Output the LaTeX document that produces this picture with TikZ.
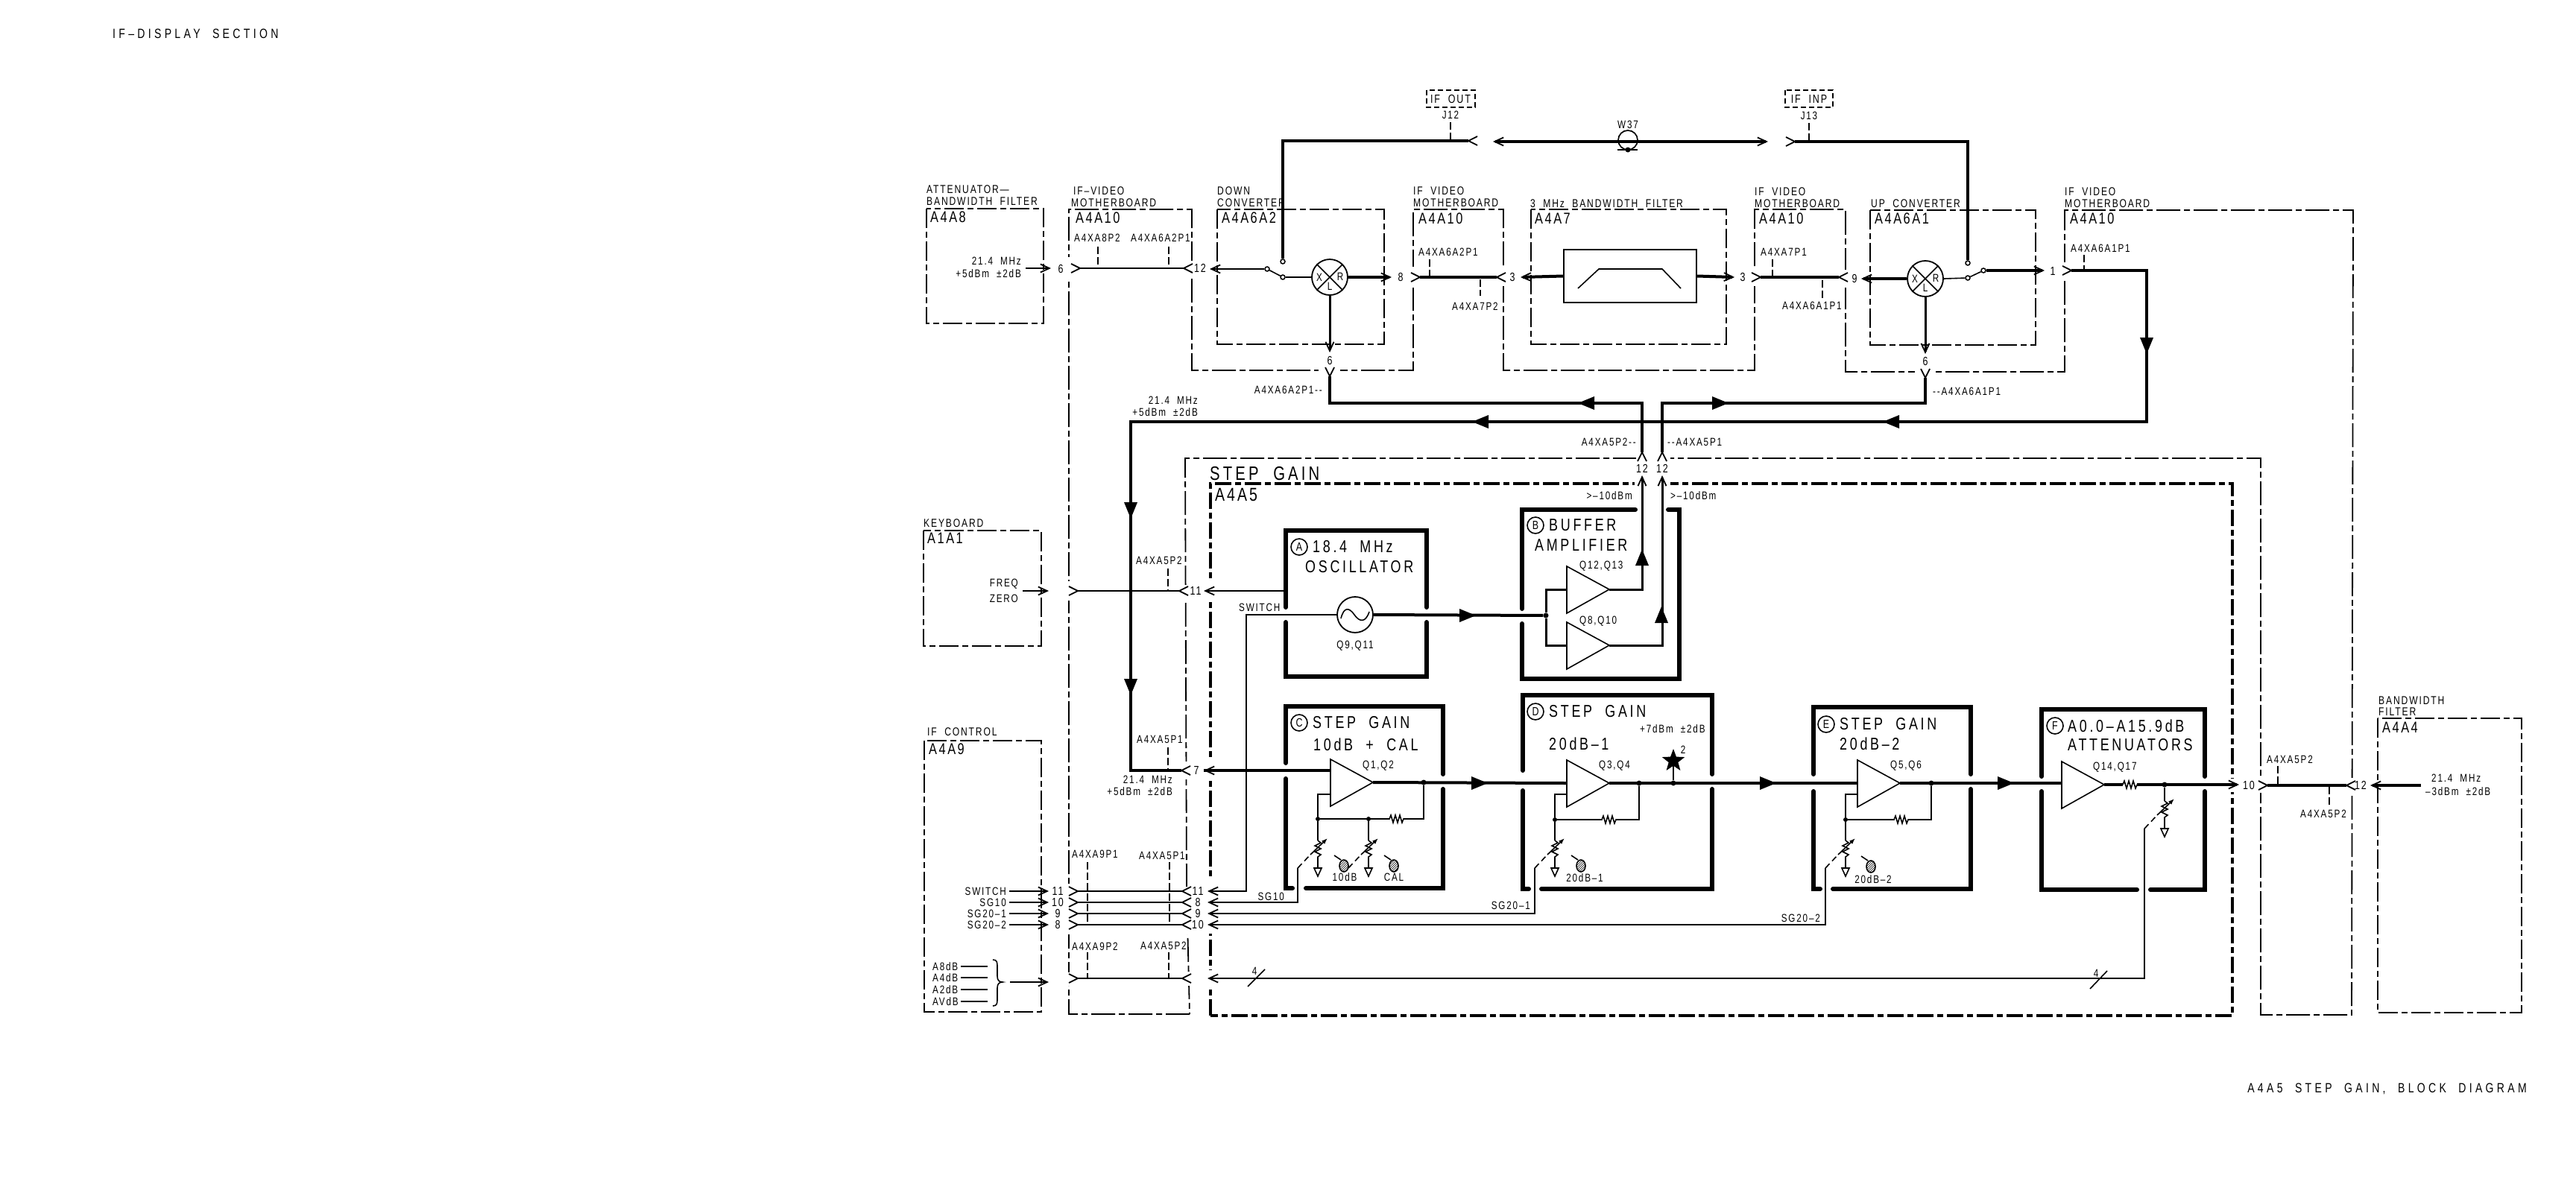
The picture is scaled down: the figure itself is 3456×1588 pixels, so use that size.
\documentclass[tikz,border=0pt]{standalone}
\usepackage{fontspec}
\usetikzlibrary{arrows.meta,shapes.geometric,patterns}
\setmainfont{Liberation Sans}
\newfontfamily\cad[FakeStretch=.78,LetterSpace=12,WordSpace=2]{Liberation Sans}
\newfontfamily\cadw[FakeStretch=.78,LetterSpace=16,WordSpace=2]{Liberation Sans}
\newfontfamily\cadx[FakeStretch=.78,LetterSpace=24,WordSpace=2]{Liberation Sans}
\newcommand\triL[2]{\fill (#1,#2) -- ++(22,-9) -- ++(0,18) -- cycle;}
\newcommand\triR[2]{\fill (#1,#2) -- ++(-22,-9) -- ++(0,18) -- cycle;}
\newcommand\triD[2]{\fill (#1,#2) -- ++(-9,-22) -- ++(18,0) -- cycle;}
\newcommand\triU[2]{\fill (#1,#2) -- ++(-9,22) -- ++(18,0) -- cycle;}
\newcommand\gapV[4][4]{\fill[white] (#2-#1,#3) rectangle (#2+#1,#4);}
\newcommand\gapH[4][4]{\fill[white] (#3,#2-#1) rectangle (#4,#2+#1);}
\newcommand\zz{-- ++(2,-5) -- ++(3,10) -- ++(3,-10) -- ++(3,10) -- ++(3,-10) -- ++(3,10) -- ++(2,-5)}
\newcommand\stub[3]{\draw[stubline] (#1,#2) -- (#1,#3);}
% amplifier: name, left x, tip y
\newcommand\Amp[3]{\coordinate (#1-o) at (#2+57,#3);
  \draw[thinw,line join=miter] (#2,#3-31) -- (#2,#3+32) -- (#1-o) -- cycle;}
% variable attenuator: name, x, top of zigzag
\newcommand\Var[3]{\coordinate (#1-t) at (#2,#3); \coordinate (#1-d) at (#2-27,#3+37);
  \draw[thinw] (#1-t) -- ++(4,3) -- ++(-8,4) -- ++(8,4) -- ++(-8,4) -- ++(8,4) -- ++(-4,3) -- (#2,#3+37) -- ++(-5,0) -- ++(5,11) -- ++(5,-11) -- (#2,#3+37);
  \draw[thinw,-{Latex[length=8pt,width=6pt]}] (#2-10,#3+19) -- (#2+13,#3-3);
  \draw[thinw,dash pattern=on 8pt off 5pt] (#1-d) -- (#2-10,#3+19);}
% screwdriver adjustment
\newcommand\Screw[2]{\draw[thinw,fill=white,pattern=north east lines] (#1,#2) ellipse (6 and 8);
  \draw[line width=1.6pt] (#1-13,#2-14) -- (#1-4,#2-8);}
\tikzset{
 thinw/.style={line width=1.6pt},
 medw/.style={line width=3pt},
 thickw/.style={line width=4pt},
 opn/.style={-{Straight Barb[length=12pt,width=11pt,line width=1.8pt]}},
 modbox/.style={line width=2pt,dash pattern=on 26pt off 5pt on 8pt off 5pt},
 mbline/.style={line width=1.8pt,dash pattern=on 32pt off 5pt on 8pt off 5pt},
 stepline/.style={line width=4.5pt,dash pattern=on 22pt off 5pt on 8pt off 5pt},
 blockline/.style={line width=6pt,line cap=round,line join=miter},
 stubline/.style={line width=1.4pt,dash pattern=on 10pt off 4pt},
 fs/.style={font=\cad\fontsize{15}{16}\selectfont,inner sep=0pt},
 fn/.style={font=\cad\fontsize{16}{17}\selectfont,inner sep=0pt},
 fh/.style={font=\cad\fontsize{15.5}{17}\selectfont,inner sep=0pt},
 fm/.style={font=\cad\fontsize{21}{23}\selectfont,inner sep=0pt},
 fa/.style={font=\cad\fontsize{25}{27}\selectfont,inner sep=0pt},
 fb/.style={font=\cadw\fontsize{23}{24}\selectfont,inner sep=0pt},
 fl/.style={font=\cadw\fontsize{26}{28}\selectfont,inner sep=0pt},
 fx/.style={font=\cadx\fontsize{18}{20}\selectfont,inner sep=0pt},
 lft/.style={anchor=west},
 rgt/.style={anchor=east},
 circ/.style={draw,circle,line width=1.6pt,minimum size=22pt,inner sep=0pt,font=\cad\fontsize{16}{17}\selectfont},
 dot/.style={circle,fill=black,minimum size=7pt,inner sep=0pt},
 swc/.style={circle,draw,fill=white,line width=1.5pt,minimum size=6pt,inner sep=0pt},
 mix/.style={circle,draw,line width=1.8pt,minimum size=48pt,inner sep=0pt},
 chevr/.pic={\draw[line width=1.8pt] (-12,-6) -- (0,0) -- (-12,6);},
 chevl/.pic={\draw[line width=1.8pt] (12,-6) -- (0,0) -- (12,6);},
 chevd/.pic={\draw[line width=1.8pt] (-6,-12) -- (0,0) -- (6,-12);},
 chevu/.pic={\draw[line width=1.8pt] (-6,12) -- (0,0) -- (6,12);},
}
\begin{document}
\begin{tikzpicture}[x=1pt,y=-1pt]
\useasboundingbox (0,0) rectangle (3456,1588);
% ---------- module outlines
\draw[modbox] (1243,280) rectangle (1400,434);
\draw[modbox] (1633,281) rectangle (1857,462);
\draw[modbox] (2054,281) rectangle (2316,462);
\draw[modbox] (2509,282) rectangle (2731,463);
\draw[modbox] (1239,712) rectangle (1397,867);
\draw[modbox] (1240,994) rectangle (1397,1358);
\draw[modbox] (3190,964) rectangle (3383,1359);
\draw[mbline] (1596,1361) -- (1434,1361) -- (1434,281) -- (1599,281) -- (1599,497) -- (1896,497) -- (1896,281) -- (2017,281) -- (2017,497) -- (2354,497) -- (2354,281) -- (2476,281) -- (2476,499) -- (2770,499) -- (2770,282) -- (3157,282) -- (3155,1362) -- (3033,1362) -- (3033,615) -- (1590,615) -- (1592,1195) -- (1596,1361);
\draw[stepline] (1624,1363) -- (1624,649) -- (2995,649) -- (2995,1363) -- cycle;
\draw[thinw,dash pattern=on 7pt off 4pt] (1914,121) rectangle (1979,144);
\draw[thinw,dash pattern=on 7pt off 4pt] (2395,121) rectangle (2459,144);
% gaps
\gapV{1434}{345}{378}\gapV{1434}{780}{806}\gapV{1434}{1190}{1254}\gapV{1434}{1305}{1323}
\gapV{1599}{350}{372}\gapV{1896}{358}{386}\gapV{2017}{360}{384}\gapV{2354}{360}{384}\gapV{2476}{362}{386}\gapV{2770}{352}{375}
\gapV{1592}{785}{806}\gapV{1592}{1022}{1046}\gapV{1592}{1190}{1254}\gapV{1594}{1305}{1323}
\gapV[5]{1624}{780}{806}\gapV[5]{1624}{1020}{1046}\gapV[5]{1624}{1178}{1253}\gapV[5]{1624}{1302}{1325}
\gapV{3033}{1044}{1064}\gapV{3156}{1044}{1064}\gapV[5]{2995}{1045}{1063}
\gapH{497}{1769}{1798}\gapH{499}{2569}{2597}\gapH{615}{2195}{2241}\gapH[5]{649}{2193}{2241}
% ---------- stage blocks
\draw[blockline] (1725,815) -- (1725,712) -- (1914,712) -- (1914,815) (1725,835) -- (1725,908) -- (1914,908) -- (1914,835);
\draw[blockline] (2042,817) -- (2042,684) -- (2194,684) (2238,684) -- (2253,684) -- (2253,911) -- (2042,911) -- (2042,837);
\draw[blockline] (1725,1024) -- (1725,948) -- (1936,948) -- (1936,1039) (1936,1059) -- (1936,1192) -- (1752,1192) (1734,1192) -- (1725,1192) -- (1725,1045);
\draw[blockline] (2043,1034) -- (2043,933) -- (2297,933) -- (2297,1039) (2297,1059) -- (2297,1193) -- (2068,1193) (2051,1193) -- (2043,1193) -- (2043,1061);
\draw[blockline] (2433,1039) -- (2433,949) -- (2644,949) -- (2644,1039) (2644,1059) -- (2644,1193) -- (2459,1193) (2442,1193) -- (2433,1193) -- (2433,1062);
\draw[blockline] (2739,1042) -- (2739,952) -- (2958,952) -- (2958,1042) (2958,1062) -- (2958,1194) -- (2885,1194) (2867,1194) -- (2739,1194) -- (2739,1062);
% ---------- top path components
\node[mix] (mx1) at (1784,372) {};
\draw[line width=1.6pt] (mx1.45) -- (mx1.225) (mx1.135) -- (mx1.315);
\node[mix] (mx2) at (2583,374) {};
\draw[line width=1.6pt] (mx2.45) -- (mx2.225) (mx2.135) -- (mx2.315);
\node[fs] (mx1x) at (1770,372) {X}; \node[fs] (mx1r) at (1798,371) {R}; \node[fs] (mx1l) at (1784,384) {L};
\node[fs] (mx2x) at (2569,374) {X}; \node[fs] (mx2r) at (2597,373) {R}; \node[fs] (mx2l) at (2583,386) {L};
\node[swc] (sw1a) at (1700,361) {}; \node[swc] (sw1b) at (1721,372) {}; \node[swc] (sw1c) at (1721,351) {};
\node[swc] (sw2a) at (2661,363) {}; \node[swc] (sw2b) at (2640,373) {}; \node[swc] (sw2c) at (2640,353) {};
\draw[thinw] (sw1a) -- (sw1b); \draw[thinw] (sw2a) -- (sw2b);
\draw[thinw] (sw1b) -- (mx1.west); \draw[thinw] (mx2.east) -- (sw2b);
\node[draw,line width=1.8pt,minimum width=178pt,minimum height=71pt,inner sep=0pt] (filt) at (2187,370.5) {};
\draw[thinw] (2117,387) -- (2145,361) -- (2230,361) -- (2255,387);
% coordinates of connector terminals
\coordinate (a6s) at (1376,360); \coordinate (a6e) at (1410,360);
\coordinate (m1a) at (1449,360); \coordinate (m1b) at (1588,360);
\coordinate (sw1o) at (1623,361);
\coordinate (mx1o) at (1867,372); \coordinate (m2a) at (1905,372); \coordinate (m2b) at (2008,372);
\coordinate (fli) at (2040,372); \coordinate (flo) at (2327,372);
\coordinate (m3a) at (2362,372); \coordinate (m3b) at (2467,372);
\coordinate (mx2i) at (2497,374); \coordinate (sw2o) at (2743,363); \coordinate (m4a) at (2779,363);
\coordinate (c1) at (2880,363); \coordinate (c2) at (2880,566); \coordinate (c3) at (1517,566); \coordinate (c4) at (1517,1034);
\coordinate (in7) at (1585,1034); \coordinate (tip7) at (1615,1034);
\coordinate (ifo) at (1970,189); \coordinate (ifo1) at (1721,189);
\coordinate (w37a) at (2003,190); \coordinate (w37b) at (2372,190);
\coordinate (ifi) at (2408,190); \coordinate (ifi1) at (2640,190);
\coordinate (mx1d) at (1784,473); \coordinate (y1) at (1784,505); \coordinate (y1a) at (1784,541); \coordinate (y1b) at (2203,541);
\coordinate (mx2d) at (2583,475); \coordinate (y2) at (2583,507); \coordinate (y2a) at (2583,541); \coordinate (y2b) at (2230,541);
\coordinate (u1) at (2203,607); \coordinate (u2) at (2230,607); \coordinate (u1b) at (2203,638); \coordinate (u2b) at (2230,638);
% ---------- chevrons
\pic at (m1a) {chevr}; \pic at (m1b) {chevl}; \pic at (m2a) {chevr}; \pic at (m2b) {chevl};
\pic at (m3a) {chevr}; \pic at (m3b) {chevl}; \pic at (m4a) {chevr}; \pic at (in7) {chevl};
\pic at (ifo) {chevl}; \pic at (ifi) {chevr}; \pic at (y1) {chevd}; \pic at (y2) {chevd};
\pic at (u1) {chevu}; \pic at (u2) {chevu};
% ---------- wires, top
\draw[thinw,opn] (a6s) -- (a6e);
\draw[thinw] (m1a) -- (m1b);
\draw[thinw,opn] (sw1a) -- (sw1o);
\draw[thickw,opn] (mx1.east) -- (mx1o);
\draw[thickw] (m2a) -- (m2b);
\draw[thickw,opn] (filt.west) -- (fli);
\draw[thickw,opn] (filt.east) -- (flo);
\draw[thickw] (m3a) -- (m3b);
\draw[thickw,opn] (mx2.west) -- (mx2i);
\draw[thickw,opn] (sw2a) -- (sw2o);
\draw[thickw] (m4a) -- (c1) -- (c2) -- (c3) -- (c4) -- (in7);
\draw[thickw] (ifo) -- (ifo1) -- (sw1c);
\draw[thickw,{Straight Barb[length=12pt,width=11pt,line width=1.8pt]}-{Straight Barb[length=12pt,width=11pt,line width=1.8pt]}] (w37a) -- (w37b);
\draw[thickw] (ifi) -- (ifi1) -- (sw2c);
\draw[medw,opn] (mx1.south) -- (mx1d);
\draw[medw,opn] (mx2.south) -- (mx2d);
\draw[thickw] (y1) -- (y1a) -- (y1b) -- (u1);
\draw[thickw] (y2) -- (y2a) -- (y2b) -- (u2);
\triD{2880}{475} \triL{2526}{566} \triL{1975}{566}
\triL{2117}{541} \triR{2319}{541}
\triD{1517}{696} \triD{1517}{933}
% W37
\node[draw,circle,line width=1.7pt,minimum size=26pt,inner sep=0pt] (w37) at (2184,188) {};
\draw[thinw] (2170,201) -- (2197,201); \fill (2184,201) circle (3.5);
% dashed stubs
\stub{1946}{164}{189}\stub{2427}{165}{190}
\stub{1473}{331}{360}\stub{1568}{331}{360}\stub{1918}{348}{370}\stub{1986}{375}{397}
\stub{2378}{348}{372}\stub{2445}{376}{400}\stub{2796}{342}{362}
\stub{1567}{763}{793}\stub{1567}{1003}{1034}
\stub{1459}{1157}{1241}\stub{1569}{1157}{1241}\stub{1459}{1278}{1313}\stub{1568}{1278}{1313}
\stub{3056}{1028}{1053}\stub{3125}{1056}{1080}
% ---------- keyboard row
\coordinate (fzs) at (1372,793); \coordinate (fze) at (1407,793);
\coordinate (k1a) at (1446,793); \coordinate (k1b) at (1582,793); \coordinate (k11) at (1615,793); \coordinate (aL) at (1725,793);
\pic at (k1a) {chevr}; \pic at (k1b) {chevl};
\draw[thinw,opn] (fzs) -- (fze); \draw[thinw] (k1a) -- (k1b); \draw[thinw,opn] (aL) -- (k11);
% ---------- oscillator and buffer
\node[draw,circle,line width=1.8pt,minimum size=48pt,inner sep=0pt] (osc) at (1818,825) {};
\draw[thinw] (1799,830) .. controls (1803,814) and (1810,815) .. (1817,825) .. controls (1824,835) and (1832,836) .. (1837,821);
\node[dot] (jb) at (2074,826) {};
\Amp{ab1}{2102}{791} \Amp{ab2}{2102}{866}
\draw[thickw] (osc.east) -- (jb); \triR{1980}{826}
\draw[medw] (jb) -- (2074,791) -- (2102,791);
\draw[medw] (jb) -- (2074,866) -- (2102,866);
\draw[medw] (ab1-o) -- (2203,791) -- (2203,645);
\draw[medw] (ab2-o) -- (2230,866) -- (2230,645);
\draw[medw,opn] (2203,660) -- (u1b); \draw[medw,opn] (2230,660) -- (u2b);
\triU{2203}{737} \triU{2229}{814}
% ---------- gain stages
\Amp{ac}{1785}{1050} \Amp{ad}{2102}{1051} \Amp{ae}{2492}{1051} \Amp{af}{2766}{1053}
\node[dot] (jc) at (1910,1050) {}; \node[dot] (jd) at (2199,1051) {}; \node[dot] (je) at (2591,1051) {}; \node[dot] (jf) at (2904,1053) {};
\node[dot] (js) at (2245,1051) {};
\node[dot,minimum size=6pt] (fc) at (1768,1099) {}; \node[dot,minimum size=6pt] (fc2) at (1836,1099) {};
\node[dot,minimum size=6pt] (fd) at (2086,1100) {}; \node[dot,minimum size=6pt] (fe) at (2476,1100) {};
\draw[thickw] (tip7) -- (1785,1034);
\draw[thickw,opn] (1660,1034) -- (tip7);
\draw[thickw] (ac-o) -- (2102,1051); \triR{1996}{1051}
\draw[thickw] (ad-o) -- (2492,1051); \triR{2383}{1051}
\draw[thickw] (ae-o) -- (2766,1051); \triR{2702}{1051}
\coordinate (o10) at (3004,1053); \coordinate (m5a) at (3042,1054); \coordinate (m5b) at (3148,1054);
\coordinate (o12) at (3180,1054); \coordinate (i12) at (3248,1054);
\draw[thickw] (af-o) -- (2848,1053); \draw[thinw] (2848,1053) \zz; \draw[thickw,opn] (2867,1053) -- (o10);
\pic at (m5a) {chevr}; \pic at (m5b) {chevl};
\draw[thickw] (m5a) -- (m5b); \draw[thickw,opn] (i12) -- (o12);
% feedback
\draw[thinw] (fc) -- (1864,1099) \zz -- (1910,1099) -- (jc);
\draw[thinw] (fc) -- (1768,1066) -- (1785,1066);
\draw[thinw] (fd) -- (2149,1100) \zz -- (2199,1100) -- (jd);
\draw[thinw] (fd) -- (2086,1066) -- (2102,1066);
\draw[thinw] (fe) -- (2541,1100) \zz -- (2591,1100) -- (je);
\draw[thinw] (fe) -- (2476,1066) -- (2492,1066);
\Var{vc}{1768}{1128} \Var{vk}{1836}{1128} \Var{vd}{2086}{1128} \Var{ve}{2476}{1128} \Var{vf}{2904}{1075}
\draw[thinw] (fc) -- (vc-t); \draw[thinw] (fc2) -- (vk-t); \draw[thinw] (fd) -- (vd-t); \draw[thinw] (fe) -- (ve-t); \draw[thinw] (jf) -- (vf-t);
\Screw{1803}{1162} \Screw{1870}{1162} \Screw{2121}{1162} \Screw{2510}{1163}
% star
\node[star,star points=5,star point ratio=2.4,fill=black,minimum size=32pt,inner sep=0pt] (st) at (2245,1021) {};
\draw[thinw] (st) -- (js);
% ---------- control rows
\foreach \yy/\nm in {1196/ra,1211/rb,1226/rc,1241/rd,1313/re}{
  \coordinate (\nm1) at (1407,\yy); \coordinate (\nm2) at (1446,\yy); \coordinate (\nm3) at (1586,\yy); \coordinate (\nm4) at (1620,\yy);
  \pic at (\nm2) {chevr}; \pic at (\nm3) {chevl};
  \draw[thinw] (\nm2) -- (\nm3);
}
\foreach \yy/\nm in {1196/ra,1211/rb,1226/rc,1241/rd}{
  \draw[thinw,opn] (1354,\yy) -- (\nm1);
}
\draw[thinw,opn] (osc.west) -- (1672,825) -- (1672,1196) -- (ra4);
\draw[thinw,opn] (vc-d) -- (1741,1211) -- (rb4);
\draw[thinw,opn] (vd-d) -- (2059,1226) -- (rc4);
\draw[thinw,opn] (ve-d) -- (2449,1241) -- (rd4);
\draw[thinw,opn] (vf-d) -- (2877,1313) -- (re4);
\draw[thinw,opn] (1355,1318) -- (1407,1318);
\draw[thinw] (1674,1324) -- (1697,1301); \draw[thinw] (2804,1327) -- (2827,1303);
\draw[thinw] (1289,1297) -- (1325,1297) (1289,1312) -- (1325,1312) (1289,1328) -- (1325,1328) (1289,1344) -- (1325,1344);
\draw[thinw] (1332,1288) .. controls (1338,1288) and (1338,1292) .. (1338,1298) -- (1338,1310) .. controls (1338,1315) and (1340,1318) .. (1345,1318) .. controls (1340,1318) and (1338,1321) .. (1338,1326) -- (1338,1340) .. controls (1338,1346) and (1338,1350) .. (1332,1350);
% ---------- texts
\node[fx,lft] (tl) at (151,45) {IF–DISPLAY SECTION};
\node[fx,rgt] (tr) at (3390,1461) {A4A5 STEP GAIN, BLOCK DIAGRAM};
\node[fh,lft] (l1) at (1243,254) {ATTENUATOR—};
\node[fh,lft] (l2) at (1243,270) {BANDWIDTH FILTER};
\node[fm,lft] (b1) at (1248,291) {A4A8};
\node[fs,rgt] (l3) at (1370,350) {21.4 MHz};
\node[fs,rgt] (l4) at (1370,367) {+5dBm ±2dB};
\node[fn] (n1) at (1423,361) {6};
\node[fh,lft] (l5) at (1440,256) {IF–VIDEO};
\node[fh,lft] (l6) at (1437,272) {MOTHERBOARD};
\node[fm,lft] (b2) at (1443,292) {A4A10};
\node[fs,lft] (l7) at (1441,319) {A4XA8P2};
\node[fs,lft] (l8) at (1517,319) {A4XA6A2P1};
\node[fn] (n2) at (1610,360) {12};
\node[fh,lft] (l9) at (1633,256) {DOWN};
\node[fh,lft] (l10) at (1633,272) {CONVERTER};
\node[fm,lft] (b3) at (1639,292) {A4A6A2};
\node[fn] (n3) at (1879,372) {8};
\node[fh,lft] (l11) at (1896,256) {IF VIDEO};
\node[fh,lft] (l12) at (1896,272) {MOTHERBOARD};
\node[fm,lft] (b4) at (1903,293) {A4A10};
\node[fs,lft] (l13) at (1903,338) {A4XA6A2P1};
\node[fs,lft] (l14) at (1948,411) {A4XA7P2};
\node[fn] (n4) at (1784,484) {6};
\node[fs,rgt] (l15) at (1774,523) {A4XA6A2P1--};
\node[fs,rgt] (l16) at (1607,537) {21.4 MHz};
\node[fs,rgt] (l17) at (1607,553) {+5dBm ±2dB};
\node[fn] (ifoT) at (1946,133) {IF OUT};
\node[fs] (j12) at (1946,154) {J12};
\node[fs] (w37t) at (2184,167) {W37};
\node[fn] (ifiT) at (2427,133) {IF INP};
\node[fs] (j13) at (2427,155) {J13};
\node[fn] (n5) at (2029,372) {3};
\node[fn] (n6) at (2338,372) {3};
\node[fh,lft] (l18) at (2053,273) {3 MHz BANDWIDTH FILTER};
\node[fm,lft] (b5) at (2059,293) {A4A7};
\node[fh,lft] (l19) at (2354,257) {IF VIDEO};
\node[fh,lft] (l20) at (2354,273) {MOTHERBOARD};
\node[fm,lft] (b6) at (2360,293) {A4A10};
\node[fs,lft] (l21) at (2362,338) {A4XA7P1};
\node[fs,lft] (l22) at (2391,410) {A4XA6A1P1};
\node[fn] (n7) at (2488,374) {9};
\node[fh,lft] (l23) at (2510,273) {UP CONVERTER};
\node[fm,lft] (b7) at (2515,293) {A4A6A1};
\node[fn] (n8) at (2583,485) {6};
\node[fs,lft] (l24) at (2593,525) {--A4XA6A1P1};
\node[fn] (n9) at (2754,364) {1};
\node[fh,lft] (l25) at (2770,257) {IF VIDEO};
\node[fh,lft] (l26) at (2770,273) {MOTHERBOARD};
\node[fm,lft] (b8) at (2777,293) {A4A10};
\node[fs,lft] (l27) at (2778,333) {A4XA6A1P1};
\node[fs,rgt] (l28) at (2195,593) {A4XA5P2--};
\node[fs,lft] (l29) at (2237,593) {--A4XA5P1};
\node[fn] (n10) at (2203,629) {12};
\node[fn] (n11) at (2230,629) {12};
\node[fs,rgt] (l30) at (2190,665) {>–10dBm};
\node[fs,lft] (l31) at (2241,665) {>–10dBm};
\node[fl,lft] (s1) at (1623,636) {STEP GAIN};
\node[fa,lft] (b9) at (1630,664) {A4A5};
\node[fh,lft] (l32) at (1239,702) {KEYBOARD};
\node[fm,lft] (b10) at (1244,722) {A1A1};
\node[fs,rgt] (l33) at (1366,784) {FREQ};
\node[fs,rgt] (l34) at (1366,803) {ZERO};
\node[fs,lft] (l35) at (1524,752) {A4XA5P2};
\node[fn] (n12) at (1604,793) {11};
\node[circ] (ca) at (1743,734) {A};
\node[fb,lft] (t1) at (1761,734) {18.4 MHz};
\node[fb,lft] (t2) at (1751,761) {OSCILLATOR};
\node[fs,lft] (l36) at (1662,815) {SWITCH};
\node[fs] (q1) at (1818,867) {Q9,Q11};
\node[circ] (cb) at (2060,705) {B};
\node[fb,lft] (t3) at (2078,705) {BUFFER};
\node[fb,lft] (t4) at (2059,732) {AMPLIFIER};
\node[fs,lft] (q2) at (2119,760) {Q12,Q13};
\node[fs,lft] (q3) at (2119,834) {Q8,Q10};
\node[fh,lft] (l37) at (1244,982) {IF CONTROL};
\node[fm,lft] (b11) at (1246,1005) {A4A9};
\node[fs,lft] (l38) at (1525,992) {A4XA5P1};
\node[fn] (n13) at (1605,1034) {7};
\node[fs,rgt] (l39) at (1573,1046) {21.4 MHz};
\node[fs,rgt] (l40) at (1573,1062) {+5dBm ±2dB};
\node[circ] (cc) at (1743,970) {C};
\node[fb,lft] (t5) at (1761,970) {STEP GAIN};
\node[fb,lft] (t6) at (1762,999) {10dB + CAL};
\node[fs,lft] (q4) at (1828,1028) {Q1,Q2};
\node[fs] (l41) at (1804,1177) {10dB};
\node[fs] (l42) at (1870,1177) {CAL};
\node[fs,rgt] (l43) at (1723,1203) {SG10};
\node[circ] (cd) at (2060,955) {D};
\node[fb,lft] (t7) at (2078,955) {STEP GAIN};
\node[fb,lft] (t8) at (2078,998) {20dB–1};
\node[fs,lft] (q5) at (2145,1028) {Q3,Q4};
\node[fs,lft] (l44) at (2200,978) {+7dBm ±2dB};
\node[fs] (n14) at (2258,1006) {2};
\node[fs] (l45) at (2126,1178) {20dB–1};
\node[fs,rgt] (l46) at (2053,1215) {SG20–1};
\node[circ] (ce) at (2450,972) {E};
\node[fb,lft] (t9) at (2468,972) {STEP GAIN};
\node[fb,lft] (t10) at (2468,998) {20dB–2};
\node[fs,lft] (q6) at (2536,1028) {Q5,Q6};
\node[fs] (l47) at (2513,1180) {20dB–2};
\node[fs,rgt] (l48) at (2442,1232) {SG20–2};
\node[circ] (cf) at (2757,974) {F};
\node[fb,lft] (t11) at (2774,974) {A0.0–A15.9dB};
\node[fb,lft] (t12) at (2774,1000) {ATTENUATORS};
\node[fs,lft] (q7) at (2808,1030) {Q14,Q17};
\node[fn] (n15) at (3017,1054) {10};
\node[fs,lft] (l49) at (3041,1019) {A4XA5P2};
\node[fs,lft] (l50) at (3086,1092) {A4XA5P2};
\node[fn] (n16) at (3167,1054) {12};
\node[fh,lft] (l51) at (3191,940) {BANDWIDTH};
\node[fh,lft] (l52) at (3191,955) {FILTER};
\node[fm,lft] (b12) at (3196,976) {A4A4};
\node[fs,lft] (l53) at (3262,1044) {21.4 MHz};
\node[fs,lft] (l54) at (3254,1062) {–3dBm ±2dB};
\node[fs,lft] (l55) at (1438,1146) {A4XA9P1};
\node[fs,lft] (l56) at (1528,1148) {A4XA5P1};
\node[fs,lft] (l57) at (1438,1270) {A4XA9P2};
\node[fs,lft] (l58) at (1530,1269) {A4XA5P2};
\node[fs,rgt] (r1) at (1350,1196) {SWITCH};
\node[fs,rgt] (r2) at (1350,1211) {SG10};
\node[fs,rgt] (r3) at (1350,1226) {SG20–1};
\node[fs,rgt] (r4) at (1350,1241) {SG20–2};
\node[fn] (n17) at (1419,1196) {11}; \node[fn] (n18) at (1419,1211) {10}; \node[fn] (n19) at (1419,1226) {9}; \node[fn] (n20) at (1419,1241) {8};
\node[fn] (n21) at (1607,1196) {11}; \node[fn] (n22) at (1607,1211) {8}; \node[fn] (n23) at (1607,1226) {9}; \node[fn] (n24) at (1607,1241) {10};
\node[fs,lft] (a1) at (1251,1297) {A8dB};
\node[fs,lft] (a2) at (1251,1312) {A4dB};
\node[fs,lft] (a3) at (1251,1328) {A2dB};
\node[fs,lft] (a4) at (1251,1344) {AVdB};
\node[fs] (f1) at (1683,1303) {4};
\node[fs] (f2) at (2812,1306) {4};
\end{tikzpicture}
\end{document}
